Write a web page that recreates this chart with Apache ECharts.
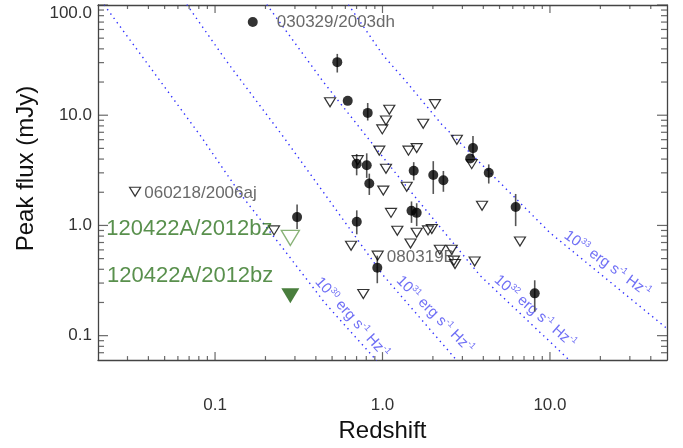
<!DOCTYPE html>
<html>
<head>
<meta charset="utf-8">
<script src="https://cdn.jsdelivr.net/npm/echarts@6.0.0/dist/echarts.min.js"></script>
<style>
  html, body { margin: 0; padding: 0; background: #fff; }
  #chart { width: 683px; height: 448px; }
</style>
</head>
<body>
<div id="chart"></div>
<script>
// detections (filled circles) with error bars
const detZ  = [0.168, 0.537, 0.620, 0.816, 0.701, 0.805, 0.834, 1.536, 2.01, 2.31, 3.47, 3.34, 4.31, 6.24, 1.49, 1.60, 0.702, 0.309, 0.931, 8.11];
const detF  = [70.0, 30.3, 13.5, 10.5, 3.62, 3.51, 2.40, 3.14, 2.87, 2.57, 5.03, 4.05, 3.01, 1.47, 1.36, 1.30, 1.08, 1.19, 0.413, 0.242];
const detHi = [70.0, 36.0, 13.5, 12.9, 4.45, 4.51, 2.95, 3.75, 3.83, 3.12, 6.49, 4.05, 3.58, 1.93, 1.65, 1.59, 1.37, 1.55, 0.532, 0.318];
const detLo = [70.0, 24.4, 13.5, 8.95, 2.85, 2.70, 1.89, 2.57, 1.93, 2.02, 4.16, 4.05, 2.40, 0.986, 1.055, 0.986, 0.831, 0.927, 0.299, 0.165];
const detNames = ['030329/2003dh'];

// upper limits (open triangles)
const limZ = [0.486, 1.098, 1.049, 0.997, 2.058, 1.75, 2.78, 0.957, 1.43, 1.60, 0.711, 3.41, 1.049, 1.395, 1.011, 3.93, 6.62, 1.124, 1.226, 1.60, 1.87, 1.97, 1.47, 0.649, 0.936, 2.20, 2.59, 2.67, 2.71, 3.55, 0.768, 0.225, 0.0333];
const limF = [13.1, 11.2, 8.95, 7.44, 12.6, 8.36, 5.98, 4.77, 4.77, 5.03, 3.91, 3.60, 3.27, 2.24, 2.07, 1.51, 0.714, 1.30, 0.895, 0.859, 0.902, 0.927, 0.685, 0.653, 0.532, 0.602, 0.602, 0.479, 0.447, 0.470, 0.239, 0.902, 2.02];
const limNames = {24: '080319B', 32: '060218/2006aj'};

// GRB 120422A
const grbZ = 0.2816;
const grbLimF = 0.770;
const grbDetF = 0.230;
const grbName = '120422A/2012bz';

// constant luminosity curves
const lum30Z = [0.0208, 0.0382, 0.0833, 0.141, 0.256, 0.454, 0.923];
const lum30F = [110, 31.4, 6.27, 1.95, 0.611, 0.197, 0.0593];
const lum31Z = [0.0678, 0.1175, 0.256, 0.4335, 1.011, 2.82];
const lum31F = [101, 30.7, 6.36, 2.10, 0.352, 0.058];
const lum32Z = [0.2036, 0.443, 1.272, 3.82, 13.2];
const lum32F = [101, 20.1, 2.66, 0.352, 0.059];
const lum33Z = [0.625, 1.011, 1.362, 2.26, 10.0, 50];
const lum33F = [101, 34.8, 20.8, 8.24, 0.859, 0.116];
const lumExp = ['30', '31', '32', '33'];
const lumLabelZ = [0.657, 2.056, 8.14, 22.0];
const lumLabelF = [0.146, 0.155, 0.165, 0.447];

// axis ticks
const xMajor = [0.1, 1, 10];
const xMinor = [0.03, 0.04, 0.05, 0.06, 0.07, 0.08, 0.09, 0.2, 0.3, 0.4, 0.5, 0.6, 0.7, 0.8, 0.9, 2, 3, 4, 5, 6, 7, 8, 9, 20, 30, 40];
const yMajor = [0.1, 1, 10, 100];
const yMinor = [0.07, 0.08, 0.09, 0.2, 0.3, 0.4, 0.5, 0.6, 0.7, 0.8, 0.9, 2, 3, 4, 5, 6, 7, 8, 9, 20, 30, 40, 50, 60, 70, 80, 90];
const X_MIN = 0.02, X_MAX = 50, Y_MIN = 0.06, Y_MAX = 100;

const FONT = 'Liberation Sans, Arial, Helvetica, sans-serif';
const frame = { show: true, lineStyle: { color: '#444', width: 1.3 } };
const lumColor = '#3030ff';
const lumText = '#4b4bf2';

function logAxis(pos, min, max, opts) {
  return Object.assign({
    type: 'log', logBase: 10, position: pos, min: min, max: max,
    axisLine: frame,
    axisTick: { show: false },
    axisLabel: { show: false },
    splitLine: { show: false },
    minorTick: { show: false }
  }, opts || {});
}

// inward tick marks on all four sides, drawn as thin rect symbols at the frame
function tickMarks() {
  const items = [];
  const addX = (v, len) => {
    items.push({ value: [v, Y_MIN], symbolSize: [1.2, len], symbolOffset: [0, -len / 2] });
    items.push({ value: [v, Y_MAX], symbolSize: [1.2, len], symbolOffset: [0, len / 2] });
  };
  const addY = (v, len) => {
    items.push({ value: [X_MIN, v], symbolSize: [len, 1.2], symbolOffset: [len / 2, 0] });
    items.push({ value: [X_MAX, v], symbolSize: [len, 1.2], symbolOffset: [-len / 2, 0] });
  };
  xMajor.forEach(v => addX(v, 8));
  xMinor.forEach(v => addX(v, 4));
  yMajor.forEach(v => addY(v, 10));
  yMinor.forEach(v => addY(v, 6));
  return {
    type: 'scatter', symbol: 'rect', silent: true, clip: false, z: 4,
    itemStyle: { color: '#444' },
    data: items
  };
}

function lumLine(zs, fs) {
  return {
    type: 'line', data: zs.map((z, i) => [z, fs[i]]), symbol: 'none', silent: true,
    clip: true, z: 1,
    lineStyle: { color: lumColor, width: 1.4, type: [1.4, 4] }
  };
}

const option = {
  animation: false,
  grid: { left: 98, right: 16, top: 5, bottom: 82 },
  xAxis: [
    logAxis('bottom', X_MIN, X_MAX, {
      axisLabel: {
        show: true, customValues: xMajor, margin: 37, fontSize: 17, color: '#333', fontFamily: FONT,
        formatter: v => Number(v).toFixed(1)
      },
      name: 'Redshift', nameLocation: 'middle', nameGap: 54,
      nameTextStyle: { fontSize: 24, color: '#111', fontFamily: FONT }
    }),
    logAxis('top', X_MIN, X_MAX)
  ],
  yAxis: [
    logAxis('left', Y_MIN, Y_MAX, {
      axisLabel: {
        show: true, customValues: yMajor, margin: 6, fontSize: 17, color: '#333', fontFamily: FONT,
        verticalAlignMaxLabel: 'top',
        formatter: v => Number(v).toFixed(1)
      },
      name: 'Peak flux (mJy)', nameLocation: 'middle', nameGap: 56,
      nameTextStyle: { fontSize: 24, color: '#111', fontFamily: FONT, padding: [0, 0, 0, 28] }
    }),
    logAxis('right', Y_MIN, Y_MAX)
  ],
  series: [
    tickMarks(),
    lumLine(lum30Z, lum30F),
    lumLine(lum31Z, lum31F),
    lumLine(lum32Z, lum32F),
    lumLine(lum33Z, lum33F),
    {
      type: 'scatter', silent: true, symbolSize: 1, z: 2,
      itemStyle: { color: 'rgba(0,0,0,0)' },
      data: lumLabelZ.map((z, i) => ({
        value: [z, lumLabelF[i]],
        label: {
          show: true, position: 'inside', rotate: [-48, -45, -41, -36][i],
          formatter: '{a|10}{s|' + lumExp[i] + '}{a| erg s}{s|-1}{a| Hz}{s|-1}',
          rich: {
            a: { fontSize: 15, color: lumText, fontFamily: FONT },
            s: { fontSize: 9, color: lumText, fontFamily: FONT, padding: [0, 0, 9, 0] }
          }
        }
      }))
    },
    {
      type: 'custom', silent: true, z: 3,
      renderItem: (params, api) => {
        const p1 = api.coord([api.value(0), api.value(1)]);
        const p2 = api.coord([api.value(0), api.value(2)]);
        return { type: 'line', shape: { x1: p1[0], y1: p1[1], x2: p2[0], y2: p2[1] },
                 style: { stroke: '#555', lineWidth: 1.6 } };
      },
      encode: { x: 0, y: [1, 2] },
      data: detZ.map((z, i) => [z, detLo[i], detHi[i]])
    },
    {
      type: 'scatter', symbol: 'circle', symbolSize: 10, z: 4,
      itemStyle: { color: '#000' },
      label: { show: true, position: 'right', distance: 19, fontSize: 17, color: '#444', fontFamily: FONT,
               formatter: p => p.name },
      data: detZ.map((z, i) => ({ name: detNames[i] || '', value: [z, detF[i]] }))
    },
    {
      type: 'scatter', symbol: 'triangle', symbolRotate: 180, symbolSize: [11, 9], z: 4,
      itemStyle: { color: 'rgba(255,255,255,0)', borderColor: '#000', borderWidth: 1.2 },
      label: { show: true, position: 'right', distance: 3, fontSize: 17, color: '#444', fontFamily: FONT,
               offset: [0, 2], formatter: p => p.name },
      data: limZ.map((z, i) => ({ name: limNames[i] || '', value: [z, limF[i]] }))
    },
    {
      type: 'scatter', symbol: 'triangle', symbolRotate: 180, symbolSize: [18, 15], z: 5,
      itemStyle: { color: 'rgba(255,255,255,0)', borderColor: '#6a9f55', borderWidth: 1.4 },
      label: { show: true, position: 'left', distance: 8, offset: [0, -9], fontSize: 22, color: '#2f7420',
               fontFamily: FONT, formatter: p => p.name },
      data: [{ name: grbName, value: [grbZ, grbLimF] }]
    },
    {
      type: 'scatter', symbol: 'triangle', symbolRotate: 180, symbolSize: [18, 15], z: 5,
      itemStyle: { color: '#1c5e0c' },
      label: { show: true, position: 'left', distance: 8, offset: [0, -20], fontSize: 22, color: '#2f7420',
               fontFamily: FONT, formatter: p => p.name },
      data: [{ name: grbName, value: [grbZ, grbDetF] }]
    }
  ]
};

const chart = echarts.init(document.getElementById('chart'));
chart.setOption(option);
</script>
</body>
</html>
